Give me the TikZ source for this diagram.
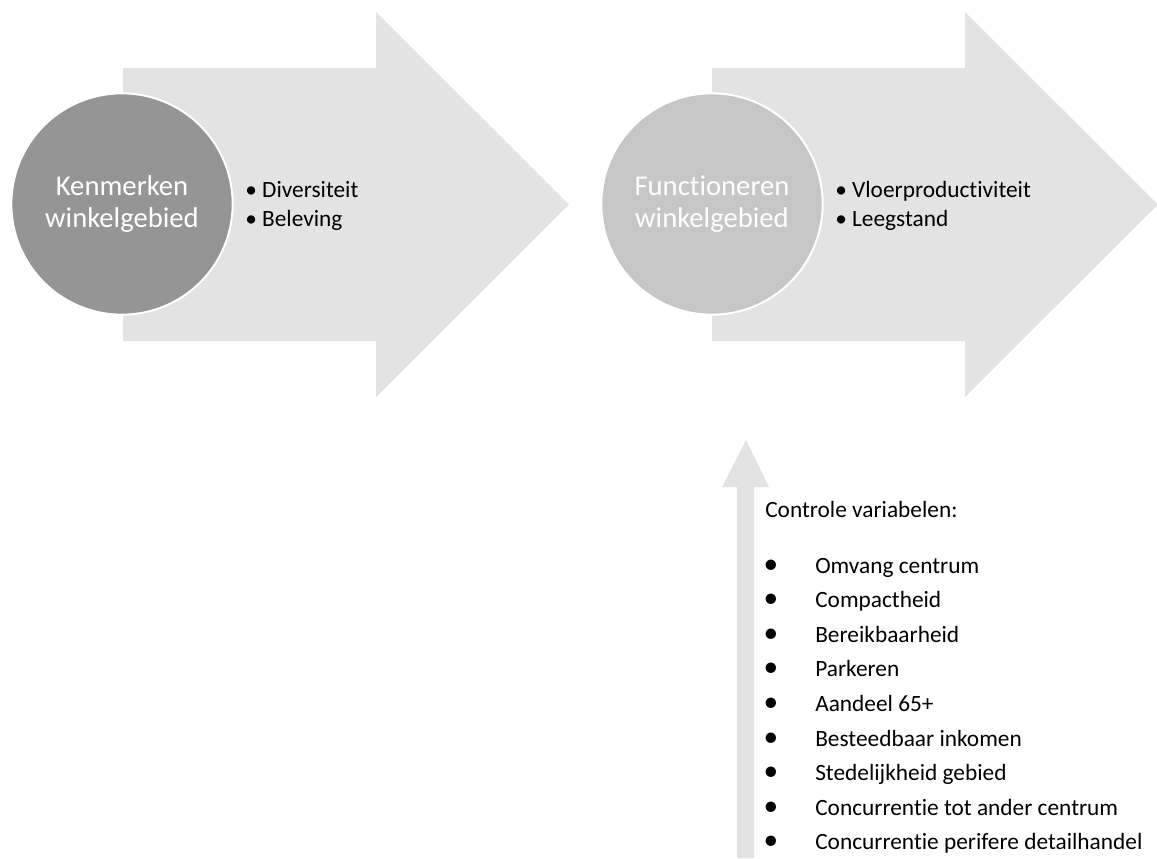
\documentclass[tikz,border=0pt]{standalone}
\usepackage{fontspec}
\setmainfont{Carlito}[Ligatures=NoCommon]

\definecolor{pijlgrijs}{HTML}{E3E3E3}
\definecolor{kringdonker}{HTML}{959595}
\definecolor{kringlicht}{HTML}{C6C6C6}

\tikzset{
  kring/.style={circle, draw=white, line width=1.5pt, minimum size=166pt, inner sep=0pt,
    text=white, align=center, font=\fontsize{21.5}{24}\selectfont},
  punten/.style={anchor=west, inner sep=0pt, align=left, font=\fontsize{17.5}{21.75}\selectfont},
  lijst/.style={anchor=base west, inner sep=0pt, font=\fontsize{17.5}{21}\selectfont},
  stip/.style={anchor=base, inner sep=0pt, font=\fontsize{22}{22}\selectfont}
}

\begin{document}
\begin{tikzpicture}[x=0.75pt, y=-0.75pt]
\useasboundingbox (0,0) rectangle (1157,858);
%\fill[red] (0,0) circle (2pt);
\foreach \dx in {0,589}
  \fill[pijlgrijs] (123+\dx,68) -- (376+\dx,68) -- (376+\dx,12) -- (569+\dx,204.5)
    -- (376+\dx,397) -- (376+\dx,341) -- (123+\dx,341) -- cycle;
\fill[pijlgrijs] (737,858) -- (737,487) -- (722,487) -- (746,440) -- (769,487) -- (754,487) -- (754,858) -- cycle;

\node[kring, fill=kringdonker] (kenmerken) at (122,204) {Kenmerken\\winkelgebied};
\node[kring, fill=kringlicht] (functioneren) at (712,204) {Functioneren\\winkelgebied};

\node[punten] (kenmerkpunten) at (245,206) {• Diversiteit\\• Beleving};
\node[punten] (functiepunten) at (835,206) {• Vloerproductiviteit\\• Leegstand};

\node[lijst] (controle) at (765,517) {Controle variabelen:};
\foreach [count=\i] \t in {Omvang centrum, Compactheid, Bereikbaarheid, Parkeren, Aandeel 65+,
    Besteedbaar inkomen, Stedelijkheid gebied, Concurrentie tot ander centrum,
    Concurrentie perifere detailhandel}
{
  \node[stip] (stip\i) at (771,{573+34.6*(\i-1)}) {•};
  \node[lijst] (item\i) at (815,{573+34.6*(\i-1)}) {\t};
}
\end{tikzpicture}
\end{document}
